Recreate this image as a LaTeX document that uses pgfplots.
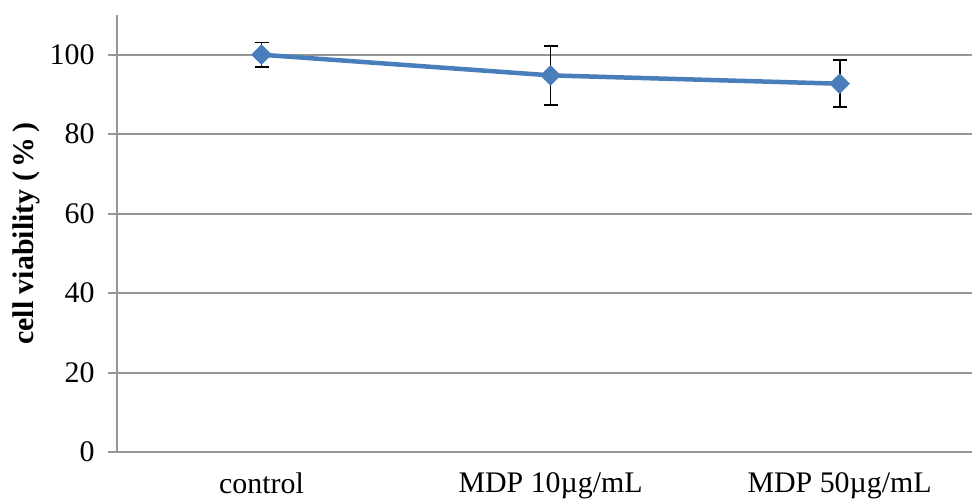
\documentclass[border=0pt]{standalone}
\usepackage{fontspec}
\setmainfont{Liberation Serif}
\usepackage{pgfplots}
\pgfplotsset{compat=1.18}
\usetikzlibrary{calc}
\definecolor{lineblue}{RGB}{74,126,187}
\definecolor{gridgray}{RGB}{150,150,150}
\begin{document}
\begin{tikzpicture}
\begin{axis}[
  scale only axis,
  width=855bp, height=437bp,
  xmin=-0.5, xmax=2.458,
  ymin=0, ymax=110,
  axis lines*=left,
  axis line style={gridgray, line width=2bp},
  ytick={0,20,40,60,80,100},
  ymajorgrids,
  grid style={gridgray, line width=2bp},
  y tick style={gridgray, line width=2bp},
  tick align=outside,
  major tick length=9bp,
  xtick={0,1,2},
  xticklabels={control, MDP 10µg/mL, MDP 50µg/mL},
  x tick style={draw=none},
  extra x ticks={-0.5,0.5,1.5},
  extra x tick labels={},
  extra x tick style={grid=none, tick style={gridgray, line width=2bp}},
  /pgf/number format/assume math mode=true,
  ticklabel style={font=\fontsize{30}{36}\selectfont},
  yticklabel style={xshift=-10bp},
  xticklabel style={yshift=-8bp},
  ylabel={\textbf{cell viability (\,\%\,)}},
  ylabel style={font=\fontsize{30}{36}\selectfont, at={(axis description cs:-0.1064,0.5)}, anchor=center},
  clip=false,
]
\addplot[color=lineblue, line width=4.5bp,
  mark=square*, mark size=7bp, mark options={rotate=45, fill=lineblue, draw=lineblue, line width=0.5bp},
  error bars/.cd, y dir=both, y explicit,
  error bar style={black, line width=1.8bp},
  error mark options={rotate=90, mark size=7bp, black, line width=1.8bp}]
coordinates {
  (0,100) +- (0,3.1)
  (1,94.8) +- (0,7.4)
  (2,92.7) +- (0,5.9)
};
\end{axis}
\pgfresetboundingbox
\path ($(current axis.south west)+(-117bp,-50bp)$) rectangle ($(current axis.north east)+(0,15bp)$);
\end{tikzpicture}
\end{document}
